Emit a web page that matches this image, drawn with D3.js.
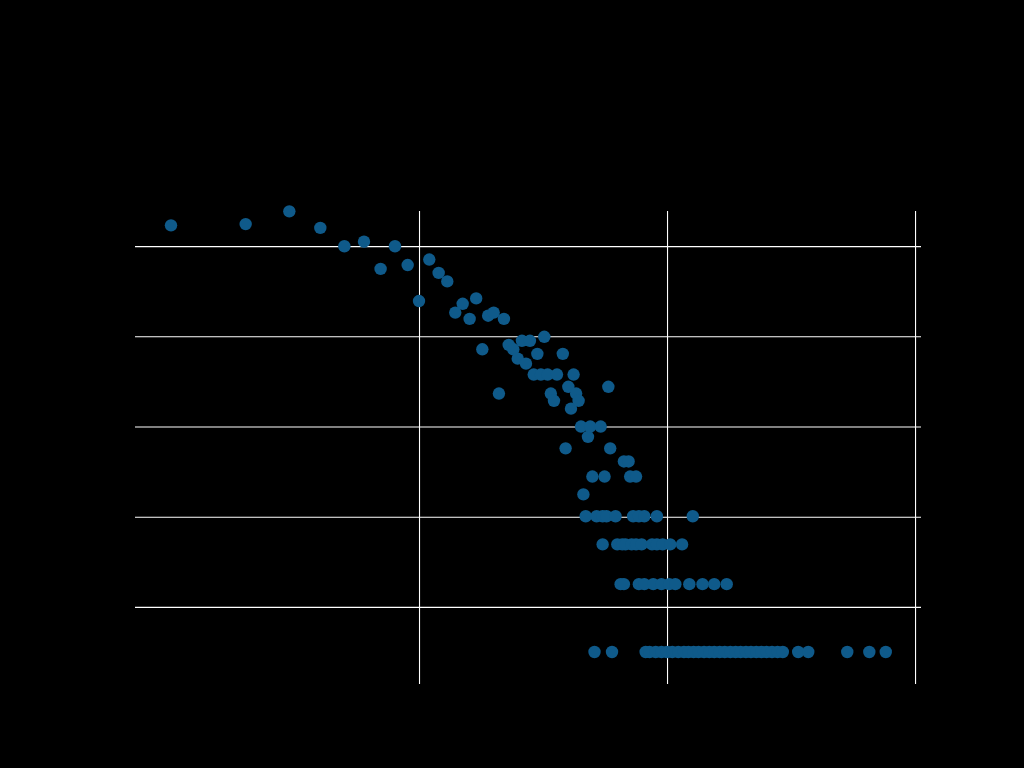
<!DOCTYPE html>
<html>
<head>
<meta charset="utf-8">
<script src="https://cdn.jsdelivr.net/npm/d3@7/dist/d3.min.js"></script>
<style>
  html, body { margin: 0; padding: 0; background: #000; }
  svg { display: block; }
</style>
</head>
<body>
<svg id="chart" width="1024" height="768"></svg>
<script>
// Values (log–log scatter: value vs. frequency)
const xValues = [
  1, 2, 3, 4, 5, 6, 7, 8, 9, 10,
  11, 12, 13, 14, 15, 16, 17, 18, 19, 20,
  21, 22, 23, 24, 25, 26, 27, 28, 29, 30,
  31, 32, 33, 34, 35, 36, 38, 39, 40, 41,
  42, 43, 44, 45, 46, 48, 49, 50, 54, 56,
  58, 59, 67, 70, 71, 75
];
const yValues = [
  78, 79, 90, 76, 63, 66, 50, 63, 52, 36,
  55, 48, 44, 32, 35, 30, 37, 22, 31, 32,
  14, 30, 23, 22, 20, 24, 19, 24, 17, 21,
  17, 25, 17, 14, 13, 17, 21, 8, 15, 12,
  17, 14, 13, 10, 5, 9, 10, 6, 10, 6,
  15, 8, 7, 7, 6, 6
];
// Low-frequency rows
const xCount4 = [47, 52, 55, 57, 62, 73, 77, 81, 91, 127];
const xCount3 = [55, 63, 66, 68, 72, 75, 79, 87, 91, 96, 103, 115];
const xCount2 = [65, 67, 77, 81, 88, 95, 102, 108, 123, 139, 155, 174];
const xCount1 = [51, 60, 82, 85, 90, 95, 100, 105, 111, 117, 122,
  128, 134, 141, 148, 155, 163, 171, 180, 189, 198, 208, 218,
  229, 240, 252, 265, 279, 293, 338, 371, 533, 654, 762];

const xTickValues = [10, 100, 1000];
const xTickLabels = ["10", "100", "1000"];
const yTickExponents = [0.2, 0.6, 1.0, 1.4, 1.8];
const yTickLabels = ["10^0.2", "10^0.6", "10^1.0", "10^1.4", "10^1.8"];

const points = [];
xValues.forEach((x, i) => points.push({x, y: yValues[i]}));
xCount4.forEach(x => points.push({x, y: 4}));
xCount3.forEach(x => points.push({x, y: 3}));
xCount2.forEach(x => points.push({x, y: 2}));
xCount1.forEach(x => points.push({x, y: 1}));

const svg = d3.select("#chart");
const W = 1024, H = 768;
const margin = {left: 140, right: 103, top: 211, bottom: 89};
const plotW = W - margin.left - margin.right;
const plotH = H - margin.top - margin.bottom;

svg.append("rect").attr("width", W).attr("height", H).attr("fill", "#000");

const x = d3.scaleLog()
  .domain([Math.pow(10, -0.125), Math.pow(10, 3.024)])
  .range([margin.left, margin.left + plotW]);
const y = d3.scaleLog()
  .domain([Math.pow(10, -0.1197), Math.pow(10, 1.9557)])
  .range([margin.top + plotH, margin.top]);

// Y grid / axis
const yAxis = d3.axisLeft(y)
  .tickValues(yTickExponents.map(e => Math.pow(10, e)))
  .tickFormat((d, i) => yTickLabels[i])
  .tickSizeInner(-plotW)
  .tickSizeOuter(0)
  .tickPadding(12);
const gy = svg.append("g").attr("transform", `translate(${margin.left},0)`).call(yAxis);
gy.select(".domain").remove();
gy.selectAll(".tick line").attr("stroke", "#fff").attr("stroke-width", 1.1)
  .attr("x1", -5);
gy.selectAll(".tick text").attr("fill", "#000").attr("font-family", "DejaVu Sans").attr("font-size", 13);

// X grid / axis
const xAxis = d3.axisBottom(x)
  .tickValues(xTickValues)
  .tickFormat((d, i) => xTickLabels[i])
  .tickSizeInner(-plotH)
  .tickSizeOuter(0)
  .tickPadding(12);
const gx = svg.append("g").attr("transform", `translate(0,${margin.top + plotH})`).call(xAxis);
gx.select(".domain").remove();
gx.selectAll(".tick line").attr("stroke", "#fff").attr("stroke-width", 1.1)
  .attr("y1", 5);
gx.selectAll(".tick text").attr("fill", "#000").attr("font-family", "DejaVu Sans").attr("font-size", 13);

// Points
svg.append("g")
  .selectAll("circle")
  .data(points)
  .join("circle")
  .attr("cx", d => x(d.x))
  .attr("cy", d => y(d.y))
  .attr("r", 6.2)
  .attr("fill", "#0f5a8a");
</script>
</body>
</html>
